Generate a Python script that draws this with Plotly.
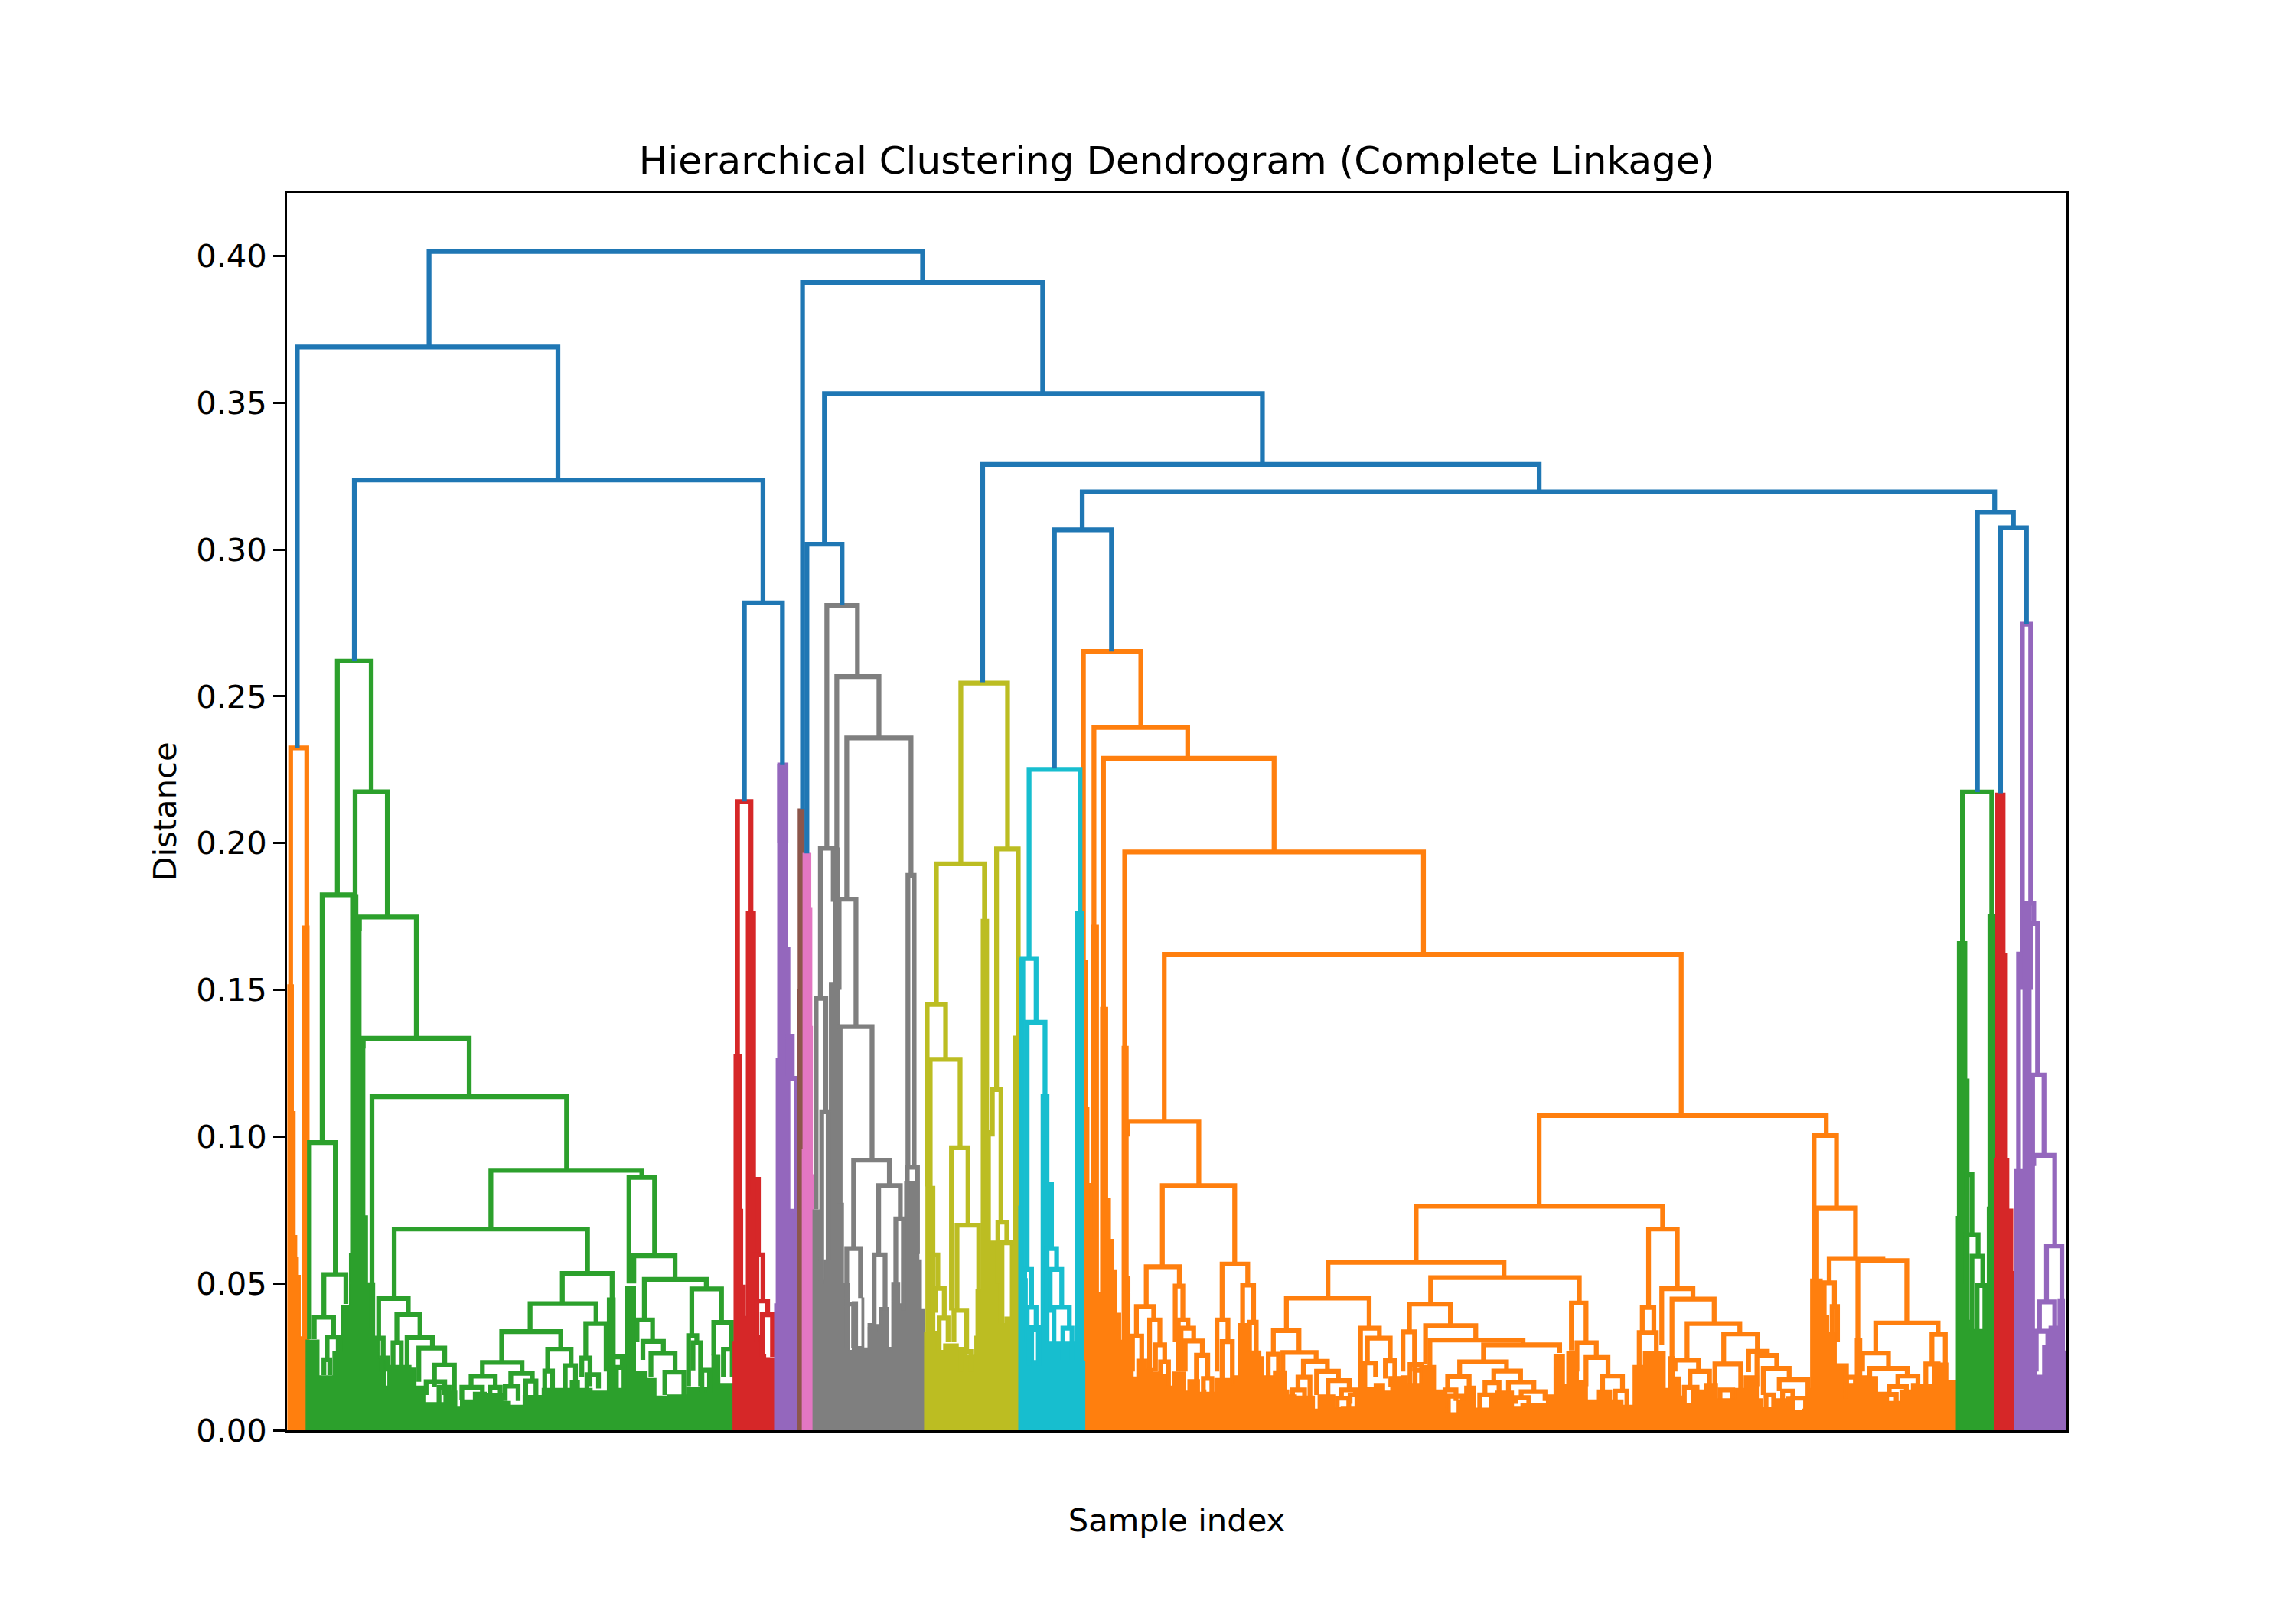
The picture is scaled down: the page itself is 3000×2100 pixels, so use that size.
import plotly.graph_objects as go

# Every link: (left x, right x, left child height, right child height, merge height)
# x is a leaf position on the hidden sample axis, heights are distances.
blue_links = [
    (293, 630, .369, .391, .4015), (203, 381, .2324, .3237, .369), (242, 521, .262, .2818, .3237),
    (508.3, 534.3, .2142, .2266, .2818), (548, 712, .2116, .3531, .391), (563, 862, .3018, .329, .3531),
    (551, 575, .1965, .281, .3018), (671, 1051, .2548, .3197, .329), (739, 1362, .3067, .3127, .3197),
    (720, 759, .2254, .2653, .3067), (1350.2, 1374.8, .2174, .3074, .3127), (1366, 1383.7, .217, .2746, .3074),
]
orange_links = [
    (198.5, 209.5, .15, .17, .2324), (739.8, 779, .16, .2394, .2653), (747, 811, .172, .2289, .2394),
    (753.5, 870, .144, .197, .2289), (768, 972, .13, .1621, .197), (795, 1148, .1052, .1072, .1621),
    (770, 818.6, .10, .0833, .1052), (793.7, 843.1, .0557, .0566, .0833), (782.7, 805.3, .0421, .0491, .0557),
    (776, 787.8, .0321, .0376, .0421), (785, 792, .02, .0291, .0376), (789, 795.3, .02, .0233, .0291),
    (792.5, 797.9, .015, .015, .0233), (773.3, 779.6, .02, .02, .0321), (802.5, 807.7, .03, .0376, .0491),
    (804.6, 811.2, .02, .0348, .0376), (806.5, 815.1, .02, .0304, .0348), (809.3, 821, .02, .0256, .0304),
    (817, 824.7, .015, .0176, .0256), (821.7, 827.5, .012, .012, .0176), (834.5, 852, .0376, .0494, .0566),
    (831, 838.5, .02, .0302, .0376), (834.5, 841.5, .015, .015, .0302), (848.5, 856, .036, .0368, .0494),
    (853.2, 857.8, .02, .02, .0368), (906.8, 1027, .045, .052, .0572), (967, 1135.3, .0572, .0685, .0763),
    (1051, 1247, .0768, .1004, .1072), (878.4, 934.9, .0339, .0348, .045), (869.5, 887, .0259, .0265, .0339),
    (866, 873, .015, .015, .0259), (876, 898.7, .015, .0235, .0265), (890, 906.4, .0181, .0201, .0235),
    (886.3, 894.5, .0137, .0116, .0181), (899, 913.9, .012, .0169, .0201), (906.8, 921.3, .01, .0137, .0169),
    (916, 925.5, .0109, .012, .0137), (929, 941.9, .0229, .0314, .0348), (933.7, 949.3, .0229, .0237, .0314),
    (946, 952.4, .0176, .015, .0237), (962.4, 990.4, .0335, .0356, .043), (958, 965.9, .02, .02, .0335),
    (973.4, 1007.7, .0224, .0307, .0356), (976.4, 1040, .02, .0291, .0307), (1013, 1065, .0233, .0263, .0291),
    (996.7, 1028.7, .0183, .0202, .0233), (988.5, 1003.2, .0137, .012, .0183), (1020, 1038.3, .0161, .0163, .0202),
    (1014, 1023.6, .012, .008, .0161), (1030, 1047.4, .01, .0131, .0163), (1038.7, 1055, .0111, .01, .0131),
    (976.9, 1078.4, .043, .0433, .052), (1073, 1083, .0272, .0298, .0433), (1076.8, 1090, .02, .0248, .0298),
    (1083, 1098, .015, .0185, .0248), (1125.7, 1145.3, .0418, .0482, .0685), (1121.4, 1129.3, .0333, .0333, .0418),
    (1119.3, 1131, .022, .027, .0333), (1134.7, 1156, .029, .0447, .0482), (1141.7, 1170.5, .0239, .0363, .0447),
    (1143.8, 1159.8, .02, .0201, .0239), (1154, 1167.3, .0146, .015, .0201), (1152, 1188, .0239, .0328, .0363),
    (1177, 1200, .0226, .0269, .0328), (1171, 1188.6, .012, .0137, .0226), (1194, 1206.8, .0198, .0255, .0269),
    (1199.7, 1213.2, .015, .0211, .0255), (1204, 1221.7, .012, .0172, .0211), (1214.9, 1234.5, .0133, .0109, .0172),
    (1238.7, 1254, .0515, .0757, .1004), (1240.5, 1267, .0515, .0585, .0757), (1249, 1285.7, .0502, .0578, .0585),
    (1245.6, 1252.6, .03, .0421, .0502), (1251, 1254.7, .03, .03, .0421), (1268.6, 1302, .0315, .0365, .0578),
    (1280.8, 1323.4, .0263, .0327, .0365), (1271.8, 1289.5, .02, .0211, .0263), (1276.7, 1302.3, .0176, .0185, .0211),
    (1295.9, 1309.6, .0149, .015, .0185), (1290, 1301.7, .0122, .01, .0149), (1319.2, 1328.3, .0226, .0226, .0327),
    (1315, 1323.4, .012, .012, .0226),
    (882.6, 890.8, .0116, .0116, .0137), (913.1, 921, .0081, .0081, .0109), (921.9, 927, .009, .009, .012),
    (931.4, 939.3, .0146, .018, .0229), (949.7, 955, .0146, .0146, .0176), (962.8, 970.7, .0159, .0159, .0224),
    (966.3, 978.5, .0159, .015, .0204), (989, 998.6, .006, .008, .0116), (986.7, 994.2, .0059, .01, .0137),
    (1010.4, 1019.5, .0075, .0075, .012), (1035.2, 1043.9, .009, .009, .0111), (1094.3, 1107.9, .0137, .0133, .0185),
    (1103, 1110.9, .0085, .0085, .0133), (1150.1, 1158.8, .009, .0137, .0146), (1174.5, 1183.2, .0107, .0107, .0137),
    (1205.9, 1211.1, .0076, .0076, .012), (1217.2, 1224.2, .0076, .0068, .0133), (1224.2, 1232.9, .0068, .0068, .0109),
    (1286.9, 1294.8, .0098, .0098, .0122), (1275.6, 1280.8, .012, .012, .0176), (1260.8, 1266.9, .0111, .0111, .0181),
    (1254.7, 1260.8, .0111, .0111, .022),
]
green_links = [
    (230.4, 253.5, .1824, .2175, .262), (220, 241, .098, .17, .1824), (242.5, 264.5, .17, .1748, .2175),
    (245.4, 284.3, .17, .1335, .1748), (248, 320.4, .13, .1136, .1335), (254, 386.9, .035, .0885, .1136),
    (335.2, 438.3, .0685, .0861, .0885), (269.2, 401.2, .0449, .0534, .0685), (258.6, 278.8, .0314, .0394, .0449),
    (271, 286.8, .0298, .0316, .0394), (278, 295.3, .0212, .028, .0316), (286, 303.7, .0165, .0222, .028),
    (296.7, 310.3, .0146, .0133, .0222), (291, 303.7, .012, .012, .0165), (384, 418, .0431, .045, .0534),
    (362, 407, .0336, .0363, .0431), (342.6, 382.9, .0231, .0276, .0336), (329.4, 356.5, .0184, .0194, .0231),
    (321.7, 338.2, .0146, .0146, .0184), (348.8, 363.5, .015, .0168, .0194), (374, 390, .0202, .022, .0276),
    (400, 413.9, .0246, .02, .0363), (429.5, 447, .05, .0594, .0861), (432.8, 461, .05, .0514, .0594),
    (440, 482.3, .0376, .0481, .0514), (472.4, 492.7, .0322, .0367, .0481), (435, 445.6, .03, .0303, .0376),
    (439, 453, .024, .0262, .0303), (444.5, 461, .018, .0198, .0262), (454, 467, .012, .012, .0198),
    (487.4, 499.5, .0255, .0276, .0367), (494, 500, .018, .018, .0276), (470.2, 475.8, .015, .0298, .0322),
    (473.2, 478.4, .0204, .015, .0298), (479.3, 484.5, .013, .013, .0204), (211.3, 229, .031, .053, .098),
    (221.2, 236.2, .0385, .043, .053), (214.6, 227.8, .031, .0318, .0385), (223.4, 231, .024, .0267, .0318),
    (221.2, 225.2, .0188, .0188, .024), (256.2, 261.7, .025, .0246, .0314), (260.5, 264.9, .02, .02, .0246),
    (268.4, 274, .022, .022, .0298), (299.8, 306.7, .0094, .0133, .0146), (315.4, 329.4, .0103, .0129, .0146),
    (334.6, 341.6, .0124, .0124, .0146), (345, 353.8, .01, .01, .015), (359, 366, .0118, .0118, .0168),
    (372, 377.3, .0142, .0142, .0202), (386, 393, .0142, .0168, .022), (397.3, 402.9, .018, .015, .0246),
    (400.8, 408.7, .0142, .0142, .0189), (418.6, 424.9, .0214, .0214, .025), (420.9, 426.1, .0142, .0142, .0214),
]
red_links = [
    (503.6, 512.8, .1278, .1766, .2142), (514, 517.9, .08, .0597, .0855),
    (514.9, 521, .03, .044, .0597), (516.7, 524.2, .03, .0393, .044), (520.5, 527.5, .025, .025, .0393),
]
purple_links = [
    (532.4, 536.7, .2, .2, .2266), (538.1, 541, .12, .1199, .1342), (537, 543.7, .074, .074, .1199),
    (1380.9, 1386.6, .1622, .1795, .2746), (1383.1, 1388.7, .17, .1726, .1795), (1386.6, 1391.3, .15, .121, .1726),
    (1387.9, 1395.7, .09, .0936, .121), (1388.7, 1403, .09, .0628, .0936), (1397.4, 1407.9, .0437, .0437, .0628),
    (1392.6, 1403, .0337, .0354, .0437), (1390.4, 1398.3, .02, .029, .0337), (1378.3, 1381.4, .089, .15, .1622),
]
gray_links = [
    (564.6, 585.5, .1983, .2567, .281), (571.4, 600.2, .19, .2358, .2567), (578.2, 622.1, .1809, .189, .2358),
    (560.2, 569, .1471, .18, .1983), (557.3, 563.9, .0752, .1085, .1471), (561.1, 565.5, .05, .058, .1085),
    (573, 584.5, .15, .1375, .1809), (573.7, 595.5, .0773, .092, .1375), (582.9, 607.3, .0619, .0833, .092),
    (600, 614.8, .0597, .072, .0833), (578.2, 587.6, .043, .045, .0619), (596.9, 604.4, .0344, .0408, .0597),
    (611.7, 616.9, .0494, .0408, .072), (594.2, 597.7, .028, .028, .0344), (578.2, 582.9, .028, .028, .043),
    (620, 624.2, .0896, .0896, .189), (619.5, 626.5, .08, .06, .0896),
]
olive_links = [
    (656.1, 688, .1929, .198, .2545), (639.4, 672.3, .145, .174, .1929), (633.1, 645.7, .083, .1263, .145),
    (635.2, 655.6, .083, .0962, .1263), (649.7, 661, .0408, .0698, .0962), (653.5, 668.3, .0408, .047, .0698),
    (680.5, 695.3, .116, .13, .198), (677.6, 683.5, .10, .0709, .116), (681.4, 687.5, .05, .0638, .0709),
    (684.2, 691.8, .036, .0634, .0638), (637, 640.4, .04, .0483, .0597), (638.7, 644.8, .04, .0382, .0483),
    (641.3, 647.4, .026, .03, .0382), (651.4, 660.1, .03, .0268, .0408), (656.1, 663, .02, .02, .0268),
]
teal_links = [
    (702.7, 737.5, .1607, .1766, .2251), (698, 707.5, .15, .139, .1607), (701.4, 713.6, .0548, .1143, .139),
    (713.6, 718, .10, .0619, .0838), (714.5, 721.5, .04, .0548, .0619), (717.1, 725, .04, .0419, .0548),
    (719.7, 730.2, .03, .0348, .0419), (725.8, 732, .024, .024, .0348), (699.7, 704.4, .05, .0419, .0548),
    (701.4, 707.5, .03, .0344, .0419), (702.7, 709.3, .022, .022, .0344),
]
green2_links = [
    (1340, 1360, .16, .17, .2174), (1342.7, 1346.5, .08, .0666, .087), (1342.5, 1350.7, .05, .0593, .0666),
    (1346.5, 1353.9, .034, .0493, .0593), (1350, 1355.3, .034, .034, .0493),
]

# Dense low part of each cluster: start x, then (block right edge, block height), left to right.
orange_left_start = 196.6
orange_left_blocks = [(200.3, .1517), (201.5, .1085), (202.6, .0663), (203.7, .059), (205, .0527), (206.7, .0318),
                      (211, .1717)]

green_start = 209.1
green_blocks = [(217.8, .0307), (227.4, .0185), (233.5, .0268), (238.7, .0424), (239.5, .0603), (244.3, .1824),
                (246.5, .1748), (249.1, .1335), (250.9, .073), (255.8, .0502), (258.8, .0315), (263.1, .0246),
                (264.9, .015), (280.6, .022), (284, .0211), (290.1, .015), (303.2, .0094), (311.9, .0133),
                (314.5, .0081), (323.3, .0103), (332, .0129), (343.3, .0124), (348.5, .0098), (357.3, .0085),
                (370.3, .0118), (378.2, .0142), (389.5, .0142), (395.6, .0168), (404.3, .0142), (414.8, .0133),
                (420, .045), (427, .0142), (433.9, .0489), (441.8, .02), (447.9, .0176), (455.7, .0116),
                (468.8, .012), (486.2, .0146), (491.5, .0255), (501, .0159)]

red_start = 500.6
red_blocks = [(501.3, .03), (506.2, .1278), (507.1, .0752), (508.8, .0494), (509.7, .0387), (515.8, .1766),
              (518.1, .0859), (520.2, .0322), (522.8, .0258), (529, .0247)]

purple_start = 529
purple_blocks = [(530.1, .043), (531.1, .1267), (537.9, .2266), (539.3, .1643), (541.9, .0752), (544.6, .0741)]

brown_start = 544.6
brown_blocks = [(545.1, .15), (549.3, .2116)]

pink_start = 547.9
pink_blocks = [(548.4, .0956), (553.6, .1965), (554.3, .178), (554.7, .1375), (555.2, .087)]

gray_start = 555.2
gray_blocks = [(559.4, .075), (562.8, .051), (566.4, .058), (569, .1525), (573.3, .1983), (575.9, .0773),
               (579.9, .05), (582, .0272), (585.5, .0437), (588.6, .0285), (589.8, .045), (592.8, .028),
               (595.9, .0363), (598.5, .028), (600.8, .036), (606.4, .0418), (609, .0282), (614.3, .0503),
               (616, .043), (617.8, .0585), (627.4, .0848), (629.1, .058), (631.4, .0413)]

olive_start = 631.4
olive_blocks = [(632.3, .0333), (638.3, .083), (639.5, .0337), (644.4, .0272), (654.3, .0294), (657.8, .0282),
                (660.4, .028), (665.7, .0255), (666.5, .032), (670.1, .048), (675, .174), (676.2, .102),
                (682.2, .0644), (686.2, .0363), (690, .0385), (691.8, .0634), (695.3, .1342), (695.7, .075)]

teal_start = 695.7
teal_blocks = [(696.4, .0763), (699.7, .1607), (701.4, .0516), (704.9, .0355), (705.7, .0355), (707.8, .0237),
               (711, .0355), (716.2, .1143), (721.5, .03), (725, .03), (734.6, .03), (739.8, .1766), (740.7, .0236)]

orange_start = 739.8
orange_blocks = [(742.5, .16), (743.5, .11), (744.5, .084), (745.5, .0654), (750, .172), (751.6, .047), (756.3, .144),
                 (758.2, .0789), (760.3, .065), (762.1, .0546), (765.2, .0398), (766.3, .0306), (770.3, .1307),
                 (771.5, .0524), (773.7, .0324), (776.3, .0181), (783.3, .0242), (786.8, .021), (791, .0198),
                 (796.4, .019), (800.7, .015), (809.4, .0198), (811.2, .0133), (819, .0172), (820.8, .0129),
                 (823.4, .0137), (829.5, .0129), (841.7, .0176), (842.6, .0155), (845.5, .0185), (851.3, .0363),
                 (860.9, .027), (862.6, .025), (869.6, .0185), (878.3, .0202), (880, .0137), (885.2, .012),
                 (897.5, .0116), (900.1, .0072), (911.4, .012), (915.8, .0076), (925.3, .0081), (928, .0116),
                 (933.2, .0229), (938.4, .0146), (945.4, .0159), (949.7, .0133), (956.7, .0181), (961.1, .0185),
                 (970.7, .0159), (980.2, .022), (987.2, .0137), (995, .0059), (1000.2, .0103), (1007.3, .015),
                 (1016.9, .0075), (1021.2, .0124), (1033.4, .0133), (1038.6, .0081), (1056, .009), (1061.2, .012),
                 (1068.2, .0259), (1069.9, .0155), (1077.7, .0268), (1083.9, .0168), (1090.8, .0103), (1100.4, .0137),
                 (1108.2, .0103), (1115.2, .0085), (1122.2, .022), (1137, .0268), (1139.6, .0142), (1143.1, .025),
                 (1147.5, .0181), (1150.1, .0116), (1155.3, .009), (1164, .0137), (1172.7, .0159), (1184.9, .0107),
                 (1191, .0142), (1200.6, .0185), (1203.2, .0107), (1212, .0076), (1219.8, .0107), (1224.2, .0115),
                 (1231.1, .0068), (1233.7, .0072), (1236.4, .0142), (1244.2, .0515), (1248.6, .0389), (1253.8, .0333),
                 (1259, .022), (1260.8, .0111), (1266.9, .0159), (1271.2, .0311), (1275.6, .0185), (1280.8, .018),
                 (1289.5, .0129), (1297.4, .0098), (1305.2, .0137), (1310.4, .0159), (1319.8, .0155), (1330, .0229),
                 (1336, .017)]

green2_start = 1335.9
green2_blocks = [(1336.6, .0728), (1342.9, .1664), (1344.4, .1196), (1345.1, .0374), (1357, .0343), (1357.5, .076),
                 (1362.8, .1755)]

red2_start = 1362
red2_blocks = [(1362.8, .0926), (1369, .217), (1370.6, .1622), (1371.6, .0926), (1374.3, .0753), (1375.8, .054)]

purple2_start = 1375.8
purple2_blocks = [(1381.4, .089), (1386.8, .179), (1389.1, .0926), (1390.4, .0333), (1394.8, .0187), (1399.2, .029),
                  (1405.3, .0354), (1409.6, .0447), (1410.9, .027)]

y_ticks = [0, .05, .10, .15, .20, .25, .30, .35, .40]
y_tick_labels = ["0.00", "0.05", "0.10", "0.15", "0.20", "0.25", "0.30", "0.35", "0.40"]

ORANGE, GREEN, RED, PURPLE, BROWN, PINK, GRAY, OLIVE, TEAL, BLUE = (
    "#ff7f0e", "#2ca02c", "#d62728", "#9467bd", "#8c564b", "#e377c2", "#7f7f7f", "#bcbd22", "#17becf", "#1f77b4")
LINK_W = 6.25


def add_block(fig, start, blocks, color):
    xs, ys = [start], [0]
    left = start
    for e, h in blocks:
        xs += [left, e]
        ys += [h, h]
        left = e
    xs.append(left)
    ys.append(0)
    fig.add_trace(go.Scatter(x=xs, y=ys, mode="lines", fill="toself", fillcolor=color,
                             line=dict(color=color, width=1.5), hoverinfo="skip", showlegend=False))


def add_links(fig, links, color):
    xs, ys = [], []
    for xl, xr, yl, yr, top in links:
        xs += [xl, xl, xr, xr, None]
        ys += [yl, top, top, yr, None]
    fig.add_trace(go.Scatter(x=xs, y=ys, mode="lines", line=dict(color=color, width=LINK_W, simplify=False),
                             hoverinfo="skip", showlegend=False))


fig = go.Figure()
for start, blocks, links, color in [
    (orange_left_start, orange_left_blocks, orange_links, ORANGE),
    (orange_start, orange_blocks, [], ORANGE),
    (green_start, green_blocks, green_links, GREEN),
    (green2_start, green2_blocks, green2_links, GREEN),
    (red_start, red_blocks, red_links, RED),
    (red2_start, red2_blocks, [], RED),
    (purple_start, purple_blocks, purple_links, PURPLE),
    (purple2_start, purple2_blocks, [], PURPLE),
    (brown_start, brown_blocks, [], BROWN),
    (pink_start, pink_blocks, [], PINK),
    (gray_start, gray_blocks, gray_links, GRAY),
    (olive_start, olive_blocks, olive_links, OLIVE),
    (teal_start, teal_blocks, teal_links, TEAL),
]:
    add_block(fig, start, blocks, color)
    if links:
        add_links(fig, links, color)
add_links(fig, blue_links, BLUE)

FONT = "DejaVu Sans"
fig.update_layout(
    width=2984, height=2084, autosize=False, paper_bgcolor="white", plot_bgcolor="white", showlegend=False,
    margin=dict(l=367, r=292, t=244, b=223, pad=0),
    font=dict(family=FONT, size=41.67, color="black"),
    title=dict(text="Hierarchical Clustering Dendrogram (Complete Linkage)", font=dict(family=FONT, size=50, color="black"),
               x=0.5, xref="paper", xanchor="center", y=1, yref="paper", yanchor="bottom", pad=dict(b=25)),
    xaxis=dict(range=[196, 1411], showticklabels=False, ticks="", showgrid=False, zeroline=False, showline=True,
               mirror=True, linecolor="black", linewidth=3.33,
               title=dict(text="Sample index", standoff=101, font=dict(family=FONT, size=41.67, color="black"))),
    yaxis=dict(range=[0, 0.4215], tickmode="array", tickvals=y_ticks, ticktext=y_tick_labels, ticks="outside",
               ticklen=14.6, tickwidth=3.33, tickcolor="black", showgrid=False, zeroline=False, showline=True,
               mirror=True, linecolor="black", linewidth=3.33,
               title=dict(text="Distance", standoff=13, font=dict(family=FONT, size=41.67, color="black"))),
)
fig.write_html("out.html")
